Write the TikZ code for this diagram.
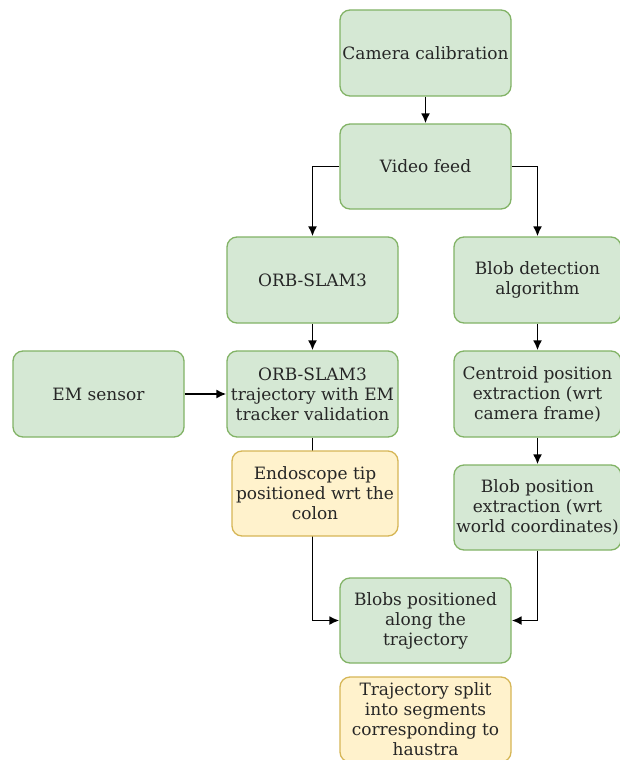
\documentclass[tikz,border=0pt]{standalone}
\usepackage{fontspec}
\setmainfont{DejaVu Serif}
\usetikzlibrary{arrows.meta}
\definecolor{gfill}{HTML}{D5E8D4}
\definecolor{gdraw}{HTML}{82B366}
\definecolor{yfill}{HTML}{FFF2CC}
\definecolor{ydraw}{HTML}{D6B656}
\begin{document}
\begin{tikzpicture}[x=1pt,y=-1pt,
  gbox/.style={draw=gdraw,fill=gfill,rounded corners=10pt,line width=1.3pt,align=center,inner sep=0pt,
    minimum width=171pt,minimum height=86pt,font=\fontsize{17}{20}\selectfont,text=black!85},
  ybox/.style={gbox,draw=ydraw,fill=yfill},
  arr/.style={line width=1.8pt,-{Latex[length=10pt,width=9pt]}}]
\useasboundingbox[fill=white] (0,0) rectangle (620,760);
\node[gbox] (cam) at (425.5,53) {Camera calibration};
\node[gbox,minimum height=85pt] (vid) at (425.5,166.5) {Video feed};
\node[gbox] (orb) at (312.5,280) {ORB-SLAM3};
\node[gbox,minimum width=167pt] (blob) at (537.5,280) {Blob detection\\algorithm};
\node[gbox] (em) at (98.5,394) {EM sensor};
\node[gbox] (traj) at (312.5,394) {ORB-SLAM3\\trajectory with EM\\tracker validation};
\node[gbox,minimum width=167pt] (cent) at (537.5,394) {Centroid position\\extraction (wrt\\camera frame)};
\node[gbox,minimum width=167pt,minimum height=85pt] (bpos) at (537.5,507.5) {Blob position\\extraction (wrt\\world coordinates)};
\node[gbox,minimum height=85pt] (bal) at (425.5,620.5) {Blobs positioned\\along the\\trajectory};
\node[ybox,minimum height=85pt] (split) at (425.5,719.5) {Trajectory split\\into segments\\corresponding to\\haustra};
\draw[arr] (cam) -- (vid);
\draw[arr] (vid.west) -| (orb.north);
\draw[arr] (vid.east) -| (blob.north);
\draw[arr] (orb) -- (traj);
\draw[arr] (em) -- (traj);
\draw[arr] (blob) -- (cent);
\draw[arr] (cent) -- (bpos);
\draw[arr] (traj.south) |- (bal.west);
\draw[arr] (bpos.south) |- (bal.east);
\node[ybox,minimum width=166pt,minimum height=85pt] (endo) at (315,493.5) {Endoscope tip\\positioned wrt the\\colon};
\end{tikzpicture}
\end{document}
